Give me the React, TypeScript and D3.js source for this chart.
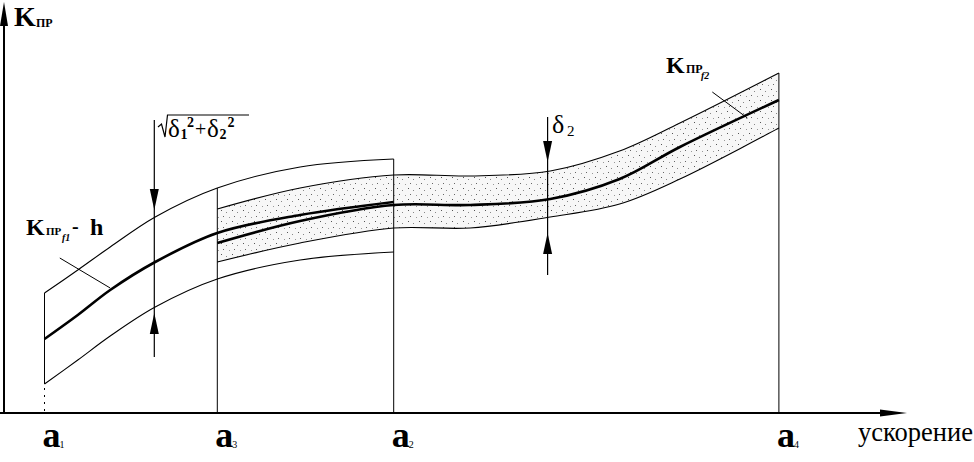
import React from 'react';
import * as d3 from 'd3';

const W = 974;
const H = 462;

// marked accelerations on the horizontal axis (arbitrary units 0..100)
const aNames = ['a', 'a', 'a', 'a'];
const aSubs = ['1', '3', '2', '4'];
const aValues = [4.5, 23.7, 43.3, 86.1];
const xAxisLabel = 'ускорение';

// first dependence K_ПР f1 (defined on a1..a2)
const f1X = [4.5, 8.2, 11.8, 16.8, 23.7, 32.9, 43.3];
const f1Mid = [18.5, 24.5, 30.75, 37.75, 45, 49.5, 52.75];
const f1Upper = [30, 35.75, 41.5, 49, 56.25, 61.5, 63.5];
const f1Lower = [7.25, 13.25, 19.25, 26.5, 33.5, 38.25, 40.25];

// second dependence K_ПР f2 (defined on a3..a4)
const f2X = [23.7, 32.9, 43.3, 51.8, 60.7, 68.4, 75.1, 86.1];
const f2Mid = [42.5, 48, 52, 52, 53.5, 58.5, 66.5, 78.25];
const f2Upper = [51, 56.25, 59.5, 59.25, 60.5, 65.5, 72.5, 85];
const f2Lower = [37.75, 42.5, 46.25, 46.25, 49, 52.25, 58.5, 71.25];

// tolerance arrows: [x, line bottom, line top, lower tip, upper tip]
const sqrtArrow = [16.7, 14, 73.25, 25, 50.75];
const delta2Arrow = [60.4, 34.5, 74, 45, 62.75];

// leader lines [x1, y1, x2, y2]
const leaderF1 = [6.2, 38.75, 11.8, 31.25];
const leaderF2 = [78.7, 80.25, 82.6, 73.75];

const x = d3.scaleLinear().domain([0, 100]).range([4, 904]);
const y = d3.scaleLinear().domain([0, 100]).range([413, 13]);

const zip = (xs: number[], ys: number[]) => xs.map((v, i) => [v, ys[i]] as [number, number]);

const curve = d3.curveCatmullRom.alpha(0.5);

const line = d3
  .line<[number, number]>()
  .x((d) => x(d[0]))
  .y((d) => y(d[1]))
  .curve(curve);

const area = d3
  .area<number>()
  .x((_, i) => x(f2X[i]))
  .y0((_, i) => y(f2Lower[i]))
  .y1((_, i) => y(f2Upper[i]))
  .curve(curve);

const serif = '"Liberation Serif", "Times New Roman", serif';

function ArrowPair({ spec }: { spec: number[] }) {
  const [ax, yb, yt, tipLow, tipUp] = spec;
  const px = x(ax);
  const hl = 21;
  const hw = 4.5;
  const up = y(tipUp);
  const low = y(tipLow);
  return (
    <g>
      <line x1={px} x2={px} y1={y(yb)} y2={y(yt)} stroke="#000" strokeWidth={1.2} />
      <path d={`M${px},${up} L${px - hw},${up - hl} L${px + hw},${up - hl} Z`} fill="#000" />
      <path d={`M${px},${low} L${px - hw},${low + hl} L${px + hw},${low + hl} Z`} fill="#000" />
    </g>
  );
}

export default function App() {
  const f1UpperAt = (v: number) => y(f1Upper[f1X.indexOf(v)]);
  const y0 = y(0);
  return (
    <svg
      width={W}
      height={H}
      viewBox={`0 0 ${W} ${H}`}
      style={{ position: 'absolute', left: 0, top: 0, background: '#fff' }}
      fontFamily={serif}
    >
      <defs>
        <pattern id="stip" width={11} height={11} patternUnits="userSpaceOnUse">
          <rect x={1} y={1} width={1} height={1} fill="#555" />
          <rect x={6} y={3} width={1} height={1} fill="#888" />
          <rect x={3} y={7} width={1} height={1} fill="#666" />
          <rect x={9} y={8} width={1} height={1} fill="#999" />
        </pattern>
      </defs>

      {/* shaded tolerance band of f2 */}
      <path d={area(f2X) ?? ''} fill="#f7f7f7" />
      <path d={area(f2X) ?? ''} fill="url(#stip)" />

      {/* axes */}
      <line x1={x(0)} x2={x(0)} y1={y0 + 1} y2={20} stroke="#000" strokeWidth={2} />
      <path d={`M${x(0)},2 L${x(0) - 4},26 L${x(0) + 4},26 Z`} fill="#000" />
      <line x1={0} x2={885} y1={y0} y2={y0} stroke="#000" strokeWidth={2} />
      <path d={`M907,${y0} L880,${y0 - 3.5} L880,${y0 + 3.5} Z`} fill="#000" />

      {/* vertical boundary lines */}
      <line x1={x(aValues[0])} x2={x(aValues[0])} y1={y(f1Upper[0])} y2={y(f1Lower[0])} stroke="#000" strokeWidth={1} />
      <line x1={x(aValues[0])} x2={x(aValues[0])} y1={y(f1Lower[0]) + 4} y2={y0} stroke="#000" strokeWidth={1} strokeDasharray="2,5" />
      <line x1={x(aValues[1])} x2={x(aValues[1])} y1={f1UpperAt(aValues[1])} y2={y0} stroke="#000" strokeWidth={1} />
      <line x1={x(aValues[2])} x2={x(aValues[2])} y1={f1UpperAt(aValues[2])} y2={y0} stroke="#000" strokeWidth={1} />
      <line x1={x(aValues[3])} x2={x(aValues[3])} y1={y(f2Upper[f2Upper.length - 1])} y2={y0} stroke="#000" strokeWidth={1} />

      {/* f1 band */}
      <path d={line(zip(f1X, f1Upper)) ?? ''} fill="none" stroke="#000" strokeWidth={1.1} />
      <path d={line(zip(f1X, f1Lower)) ?? ''} fill="none" stroke="#000" strokeWidth={1.1} />
      <path d={line(zip(f1X, f1Mid)) ?? ''} fill="none" stroke="#000" strokeWidth={2.6} />

      {/* f2 band */}
      <path d={line(zip(f2X, f2Upper)) ?? ''} fill="none" stroke="#000" strokeWidth={1.1} />
      <path d={line(zip(f2X, f2Lower)) ?? ''} fill="none" stroke="#000" strokeWidth={1.1} />
      <path d={line(zip(f2X, f2Mid)) ?? ''} fill="none" stroke="#000" strokeWidth={2.6} />

      {/* tolerance arrows */}
      <ArrowPair spec={sqrtArrow} />
      <ArrowPair spec={delta2Arrow} />

      {/* leader lines */}
      <line x1={x(leaderF1[0])} y1={y(leaderF1[1])} x2={x(leaderF1[2])} y2={y(leaderF1[3])} stroke="#000" strokeWidth={1} />
      <line x1={x(leaderF2[0])} y1={y(leaderF2[1])} x2={x(leaderF2[2])} y2={y(leaderF2[3])} stroke="#000" strokeWidth={1} />

      {/* axis title K_ПР */}
      <text x={14} y={26} fontSize={28} fontWeight="bold">K</text>
      <text x={36} y={27} fontSize={12} fontWeight="bold">ПР</text>

      {/* sqrt(δ1²+δ2²) */}
      <path d="M158,127 L161.5,124 L165,137 L167.5,115 L249,115" fill="none" stroke="#000" strokeWidth={1.2} />
      <text x={168} y={137} fontSize={25}>δ</text>
      <text x={180.5} y={139} fontSize={14} fontWeight="bold">1</text>
      <text x={187} y={127} fontSize={14} fontWeight="bold">2</text>
      <text x={195} y={136} fontSize={20}>+</text>
      <text x={207} y={137} fontSize={25}>δ</text>
      <text x={219.5} y={139} fontSize={14} fontWeight="bold">2</text>
      <text x={227.5} y={127} fontSize={14} fontWeight="bold">2</text>

      {/* δ2 */}
      <text x={552} y={133} fontSize={26}>δ</text>
      <text x={567} y={136} fontSize={15}>2</text>

      {/* K_ПР f1 - h */}
      <text x={26} y={235} fontSize={24} fontWeight="bold">K</text>
      <text x={46} y={235} fontSize={11} fontWeight="bold">ПР</text>
      <text x={62} y={241} fontSize={10} fontWeight="bold" fontStyle="italic">f1</text>
      <text x={72} y={233} fontSize={20} fontWeight="bold">-</text>
      <text x={90} y={235} fontSize={24} fontWeight="bold">h</text>

      {/* K_ПР f2 */}
      <text x={666} y={73} fontSize={24} fontWeight="bold">K</text>
      <text x={686} y={73} fontSize={12} fontWeight="bold">ПР</text>
      <text x={701} y={79} fontSize={10} fontWeight="bold" fontStyle="italic">f2</text>

      {/* a labels */}
      {aValues.map((v, i) => (
        <g key={i}>
          <text x={x(v) - 2} y={447} fontSize={36} fontWeight="bold">{aNames[i]}</text>
          <text x={x(v) + 15} y={448} fontSize={10}>{aSubs[i]}</text>
        </g>
      ))}

      <text x={858} y={441} fontSize={26.5}>{xAxisLabel}</text>
    </svg>
  );
}
